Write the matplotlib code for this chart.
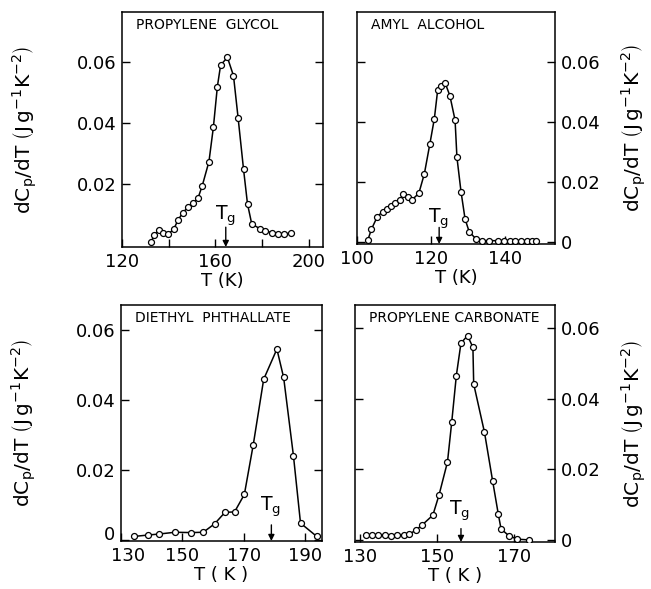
import matplotlib
matplotlib.use("Agg")
import matplotlib.pyplot as plt
import matplotlib.transforms as mtransforms

# propylene glycol
pg_T = [132.5, 133.9, 135.9, 137.5, 139.7, 142.1, 144.0, 145.9, 148.2, 150.3,
        152.5, 154.3, 157.2, 159.1, 160.8, 162.2, 165.1, 167.7, 169.7, 172.0,
        173.7, 175.5, 179.2, 181.2, 184.1, 186.9, 189.5, 192.4]
pg_c = [0.0011, 0.0033, 0.0049, 0.0038, 0.0035, 0.0051, 0.0082, 0.0104, 0.0124, 0.0137,
        0.0153, 0.0193, 0.0273, 0.0386, 0.0519, 0.0590, 0.0615, 0.0555, 0.0415, 0.0248,
        0.0134, 0.0069, 0.0052, 0.0046, 0.0040, 0.0036, 0.0035, 0.0040]

# amyl alcohol
aa_T = [102.9, 103.9, 105.5, 106.9, 108.1, 109.2, 110.4, 111.6, 112.5, 113.7,
        114.8, 116.7, 118.2, 119.7, 120.9, 121.8, 122.7, 123.8, 125.1, 126.5,
        127.0, 128.1, 129.2, 130.3, 132.2, 133.8, 135.8, 138.2, 139.8, 141.4,
        142.8, 144.3, 145.9, 147.3, 148.4]
aa_c = [0.0007, 0.0044, 0.0086, 0.0102, 0.0111, 0.0121, 0.0130, 0.0142, 0.0160, 0.0150,
        0.0141, 0.0163, 0.0228, 0.0328, 0.0411, 0.0506, 0.0519, 0.0530, 0.0487, 0.0406,
        0.0283, 0.0169, 0.0078, 0.0036, 0.0011, 0.0006, 0.0006, 0.0006, 0.0006, 0.0006,
        0.0006, 0.0006, 0.0006, 0.0006, 0.0006]

# diethyl phthallate
dp_T = [134.2, 138.8, 142.5, 147.6, 152.8, 156.8, 160.5, 163.9, 167.0, 170.2,
        173.1, 176.5, 180.8, 183.0, 186.2, 188.5, 193.8]
dp_c = [0.0010, 0.0014, 0.0017, 0.0022, 0.0021, 0.0022, 0.0046, 0.0079, 0.0080, 0.0130,
        0.0272, 0.0459, 0.0545, 0.0464, 0.0240, 0.0048, 0.0010]

# propylene carbonate
pc_T = [131.6, 133.2, 134.7, 136.4, 138.1, 139.7, 141.3, 142.8, 144.5, 146.0,
        148.9, 150.5, 152.7, 153.8, 155.0, 156.2, 157.9, 159.3, 159.5, 162.3,
        164.4, 165.9, 166.6, 168.6, 170.8, 173.8]
pc_c = [0.0013, 0.0013, 0.0014, 0.0013, 0.0011, 0.0013, 0.0014, 0.0016, 0.0028, 0.0041,
        0.0070, 0.0127, 0.0221, 0.0334, 0.0466, 0.0558, 0.0579, 0.0546, 0.0442, 0.0305,
        0.0168, 0.0072, 0.0031, 0.0012, 0.0002, 0.0000]

names = ["PROPYLENE  GLYCOL", "AMYL  ALCOHOL", "DIETHYL  PHTHALLATE", "PROPYLENE CARBONATE"]
tg = [164.4, 122.2, 179.0, 156.2]

ylab = r"dC$_\mathrm{p}$/dT $\left(\mathrm{J\,g^{-1}K^{-2}}\right)$"

fig = plt.figure(figsize=(6.51, 5.89), dpi=100)
W, H = 651.0, 589.0

def make_ax(x0, x1, ytop, ybot):
    return fig.add_axes([x0 / W, 1 - ybot / H, (x1 - x0) / W, (ybot - ytop) / H])

ax1 = make_ax(122, 323, 12, 247)
ax2 = make_ax(357, 555, 12, 244)
ax3 = make_ax(121, 322, 305, 541)
ax4 = make_ax(355, 555, 305, 542)

panels = [
    (ax1, pg_T, pg_c, (120, 206), (-0.0007, 0.0764), [120, 140, 160, 180, 200],
     ["120", "", "160", "", "200"], [0.02, 0.04, 0.06], "left", "T (K)", 0.0094, 0.0058),
    (ax2, aa_T, aa_c, (100, 153.5), (-0.0005, 0.0765), [100, 120, 140],
     ["100", "120", "140"], [0, 0.02, 0.04, 0.06], "right", "T (K)", 0.0080, 0.0050),
    (ax3, dp_T, dp_c, (130, 195.5), (-0.0003, 0.0671), [130, 150, 170, 190],
     ["130", "150", "170", "190"], [0, 0.02, 0.04, 0.06], "left", "T ( K )", 0.0094, 0.0043),
    (ax4, pc_T, pc_c, (128.7, 180.6), (-0.0006, 0.0666), [130, 150, 170],
     ["130", "150", "170"], [0, 0.02, 0.04, 0.06], "right", "T ( K )", 0.0082, 0.0032),
]

for i, (ax, T, c, xl, yl, xt, xtl, yt, side, xlab, tgy, arry) in enumerate(panels):
    ax.plot(T, c, "-", color="k", lw=1.1, marker="o", ms=4.3,
            mfc="white", mec="k", mew=0.9, zorder=3)
    ax.set_xlim(*xl)
    ax.set_ylim(*yl)
    ax.set_xticks(xt)
    ax.set_xticklabels(xtl)
    ax.set_yticks(yt)
    ax.set_yticklabels(["0" if v == 0 else "%.2f" % v for v in yt])
    for s in ax.spines.values():
        s.set_linewidth(1.1)
    ax.tick_params(direction="in", length=6, width=1.0, labelsize=13,
                   left=True, right=True, top=False, bottom=True, pad=4)
    if side == "right":
        ax.tick_params(axis="y", labelleft=False, labelright=True, pad=4)
        ax.yaxis.set_label_position("right")
        ax.set_ylabel(ylab, fontsize=14.5, rotation=90)
        ax.yaxis.set_label_coords(1.325, 0.5)
    else:
        ax.set_ylabel(ylab, fontsize=14.5)
        ax.yaxis.set_label_coords(-0.415, 0.5)
    ax.set_xlabel(xlab, fontsize=13, labelpad=1)
    ax.text(0.07, 0.945, names[i], transform=ax.transAxes, fontsize=10,
            ha="left", va="center")
    # Tg marker
    ax.text(tg[i] - 0.3, tgy, r"$\mathrm{T_g}$", fontsize=13.5, ha="center", va="center")
    ax.annotate("", xy=(tg[i], yl[0]), xytext=(tg[i], arry),
                arrowprops=dict(arrowstyle="-|>", color="k", lw=1.0, mutation_scale=9,
                                shrinkA=0, shrinkB=0))

# bottom-left corner: nudge "0" up and "130" right as in the original
up = mtransforms.ScaledTranslation(0, 5 / 72, fig.dpi_scale_trans)
right = mtransforms.ScaledTranslation(5 / 72, 0, fig.dpi_scale_trans)
lab0 = ax3.get_yticklabels()[0]
lab0.set_transform(lab0.get_transform() + up)
lab130 = ax3.get_xticklabels()[0]
lab130.set_transform(lab130.get_transform() + right)

fig.savefig("out.png", dpi=100)
